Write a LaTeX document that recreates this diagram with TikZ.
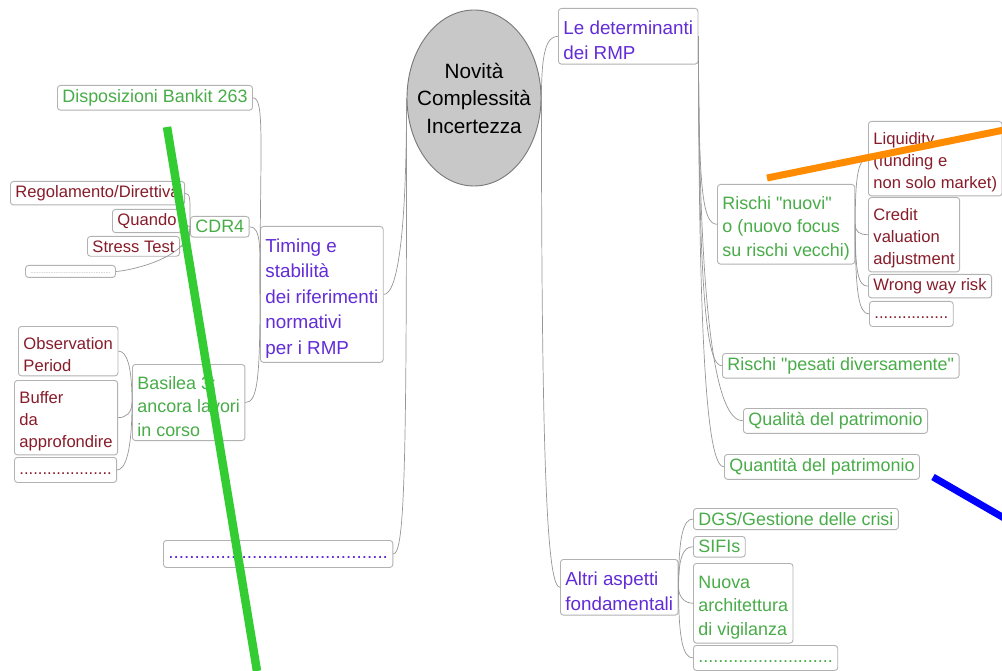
\documentclass[tikz,border=0pt]{standalone}
\usepackage{fontspec}
\setmainfont{Liberation Sans}[Ligatures=TeXOff]
\usepackage{tikz}
\usetikzlibrary{positioning, shapes.geometric}
\definecolor{rmpviola}{RGB}{98,44,214}
\definecolor{rmpverde}{RGB}{72,172,72}
\definecolor{rmprosso}{RGB}{135,28,42}
\definecolor{rmpbordo}{RGB}{178,178,178}
\definecolor{rmplinea}{RGB}{150,150,150}
\definecolor{rmpgrigio}{RGB}{200,200,200}
\newcommand{\alto}{\rule{0pt}{1.17em}}

\begin{document}
\begin{tikzpicture}[x=1pt, y=-1pt,
  main node/.style={draw=rmpbordo, line width=0.9pt, rounded corners=3pt, fill=white,
    anchor=north west, align=left, inner xsep=5pt, inner ysep=4pt},
  viola/.style={main node, text=rmpviola, font=\fontsize{18.8}{25.5}\selectfont},
  verde/.style={main node, text=rmpverde, font=\fontsize{17.9}{23.5}\selectfont},
  rosso/.style={main node, text=rmprosso, font=\fontsize{16.6}{21.8}\selectfont},
  punti/.style={text height=13pt, text depth=4pt},
  link/.style={draw=rmplinea, line width=0.7pt},
  su/.style={out=90, out distance=#1, in distance=12pt},
  giu/.style={out=-90, out distance=#1, in distance=12pt},
  tratto/.style={line width=#1, line cap=butt}]
\useasboundingbox (0,0) rectangle (1002,671);

% centro
\node[ellipse, draw=rmplinea!80!black, fill=rmpgrigio, line width=0.9pt,
  minimum width=134pt, minimum height=176pt, inner sep=0pt,
  label={[align=center, font=\fontsize{20.7}{27.5}\selectfont]center:Novità\\Complessità\\Incertezza}]
  (N) at (474,98) {};

% ramo sinistro
\node[viola] (tim) at (260,226)
  {\alto Timing e\\stabilità\\dei riferimenti\\normativi\\per i RMP};
\node[viola, punti, inner ysep=5pt] (puntiA) at (163,540) {..........................................};
\node[verde] (disp) at (57,85) {Disposizioni Bankit 263};
\node[verde] (cdr) at (190,216) {CDR4};
\node[verde] (bas) at (132,364) {\alto Basilea 3:\\ancora lavori\\in corso};
\node[rosso] (reg) at (10,181) {Regolamento/Direttiva};
\node[rosso] (qua) at (112,209) {Quando};
\node[rosso] (str) at (87,236) {Stress Test};
\node[rosso, text=rmplinea, font=\fontsize{6}{7}\selectfont, inner ysep=3pt,
  text height=5pt, text depth=1pt] (puntiB) at (25,265) {................................................};
\node[rosso] (obs) at (18,326) {\alto Observation\\Period};
\node[rosso] (buf) at (14,380) {\alto Buffer\\da\\approfondire};
\node[rosso, punti] (puntiC) at (14,457) {....................};

% ramo destro
\node[viola] (det) at (558,8) {\alto Le determinanti\\dei RMP};
\node[viola] (altri) at (560,559) {\alto Altri aspetti\\fondamentali};
\node[verde] (nuovi) at (717,184) {\alto Rischi "nuovi"\\o (nuovo focus\\su rischi vecchi)};
\node[rosso] (liq) at (868,121) {\alto Liquidity\\(funding e\\non solo market)};
\node[rosso] (cva) at (868,197) {\alto Credit\\valuation\\adjustment};
\node[rosso] (wwr) at (868,274) {Wrong way risk};
\node[rosso, punti] (puntiD) at (869,301) {................};
\node[verde] (pes) at (722,353) {Rischi "pesati diversamente"};
\node[verde] (qual) at (743,408) {Qualità del patrimonio};
\node[verde] (quan) at (724,454) {Quantità del patrimonio};
\node[verde] (dgs) at (693,508) {DGS/Gestione delle crisi};
\node[verde] (sifi) at (693,536) {SIFIs};
\node[verde] (arch) at (693,563) {\alto Nuova\\architettura\\di vigilanza};
\node[verde, punti] (puntiE) at (693,645) {...........................};

\path[link]
(N.west) edge[giu=150pt, in=0] (tim.east)
(N.west) edge[giu=360pt, in=0] (puntiA.east)
(N.east) edge[su=45pt, in=180] (det.west)
(N.east) edge[giu=390pt, in=180] (altri.west)
(tim.west) edge[su=150pt, in=0] (disp.east)
(tim.west) edge[su=45pt, in=0] (cdr.east)
(tim.west) edge[giu=85pt, in=0] (bas.east)
(cdr.west) edge[su=25pt, in=0, in distance=6pt] (reg.east)
(cdr.west) edge[out=180, in=0] (qua.east)
(cdr.west) edge[giu=12pt, in=0, in distance=8pt] (str.east)
(cdr.west) edge[giu=33pt, in=0, in distance=8pt] (puntiB.east)
(bas.west) edge[su=38pt, in=0, in distance=8pt] (obs.east)
(bas.west) edge[giu=10pt, in=0, in distance=8pt] (buf.east)
(bas.west) edge[giu=50pt, in=0, in distance=8pt] (puntiC.east)
(det.east) edge[giu=150pt, in=180, in distance=15pt] (nuovi.west)
(det.east) edge[giu=265pt, in=180, in distance=15pt] (pes.west)
(det.east) edge[giu=300pt, in=180, in distance=25pt] (qual.west)
(det.east) edge[giu=340pt, in=180, in distance=15pt] (quan.west)
(nuovi.east) edge[su=48pt, in=180, in distance=10pt] (liq.west)
(nuovi.east) edge[giu=8pt, in=180, in distance=8pt] (cva.west)
(nuovi.east) edge[giu=48pt, in=180, in distance=10pt] (wwr.west)
(nuovi.east) edge[giu=70pt, in=180, in distance=10pt] (puntiD.west)
(altri.east) edge[su=50pt, in=180, in distance=10pt] (dgs.west)
(altri.east) edge[su=30pt, in=180, in distance=10pt] (sifi.west)
(altri.east) edge[giu=10pt, in=180, in distance=8pt] (arch.west)
(altri.east) edge[giu=52pt, in=180, in distance=10pt] (puntiE.west)
;

% tratti a mano
\draw[tratto=8.5pt, color={rgb,255:red,51;green,204;blue,51}] (167,127) -- (257,671);
\draw[tratto=7pt, color={rgb,255:red,255;green,140;blue,0}] (767,178) -- (1004,130);
\draw[tratto=7pt, color={rgb,255:red,0;green,0;blue,255}] (933,477) -- (1004,518);
\end{tikzpicture}
\end{document}
